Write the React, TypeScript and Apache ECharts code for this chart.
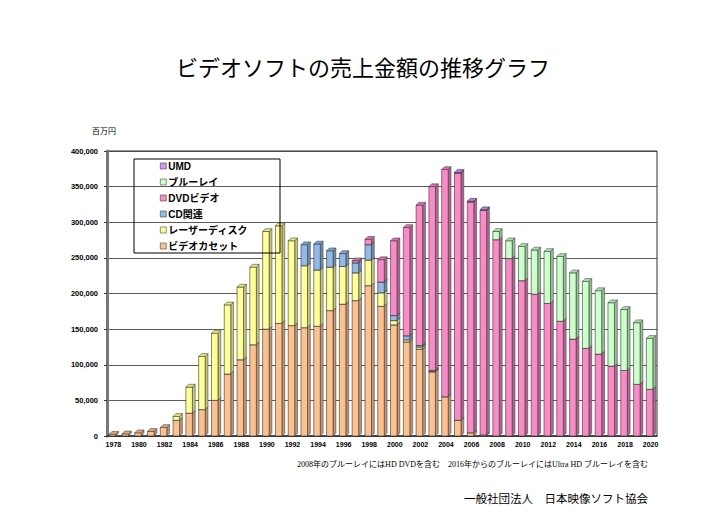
import React, { useEffect, useRef } from "react";
import * as echarts from "echarts";

const years = [
  "1978", "1979", "1980", "1981", "1982", "1983", "1984", "1985", "1986", "1987",
  "1988", "1989", "1990", "1991", "1992", "1993", "1994", "1995", "1996", "1997",
  "1998", "1999", "2000", "2001", "2002", "2003", "2004", "2005", "2006", "2007",
  "2008", "2009", "2010", "2011", "2012", "2013", "2014", "2015", "2016", "2017",
  "2018", "2019", "2020",
];

// 百万円
const videoCassette = [
  2500, 3000, 4500, 6500, 12000, 22000, 32000, 37000, 50000, 87000,
  107000, 128000, 150000, 158000, 155000, 152000, 154000, 176000, 185000, 190000,
  211000, 182000, 156000, 132000, 122000, 90000, 55000, 22000, 4500, 1500,
  0, 0, 0, 0, 0, 0, 0, 0, 0, 0,
  0, 0, 0,
];
const laserDisc = [
  0, 0, 0, 0, 0, 5500, 36600, 74600, 94000, 97000,
  102000, 109000, 137000, 137000, 119000, 87000, 79000, 61000, 53000, 39000,
  36000, 19000, 6000, 3000, 3000, 1000, 0, 0, 0, 0,
  0, 0, 0, 0, 0, 0, 0, 0, 0, 0,
  0, 0, 0,
];
const cdRelated = [
  0, 0, 0, 0, 0, 0, 0, 0, 0, 0,
  0, 0, 0, 0, 0, 29500, 36500, 23000, 18000, 14000,
  21500, 15000, 7000, 5600, 2000, 1000, 0, 0, 0, 0,
  0, 0, 0, 0, 0, 0, 0, 0, 0, 0,
  0, 0, 0,
];
const dvdVideo = [
  0, 0, 0, 0, 0, 0, 0, 0, 0, 0,
  0, 0, 0, 0, 0, 0, 0, 0, 0, 3000,
  7500, 31500, 105000, 152000, 197000, 258000, 319000, 347000, 324000, 315500,
  275500, 249000, 218000, 199000, 186000, 161000, 136000, 123000, 115000, 98000,
  92000, 72500, 65500,
];
const bluRay = [
  0, 0, 0, 0, 0, 0, 0, 0, 0, 0,
  0, 0, 0, 0, 0, 0, 0, 0, 0, 0,
  0, 0, 0, 0, 0, 0, 0, 0, 0, 0,
  11500, 25000, 48000, 62000, 73000, 91000, 93000, 94000, 89000, 89000,
  85500, 86500, 71500,
];
const umd = [
  0, 0, 0, 0, 0, 0, 0, 0, 0, 0,
  0, 0, 0, 0, 0, 0, 0, 0, 0, 0,
  0, 0, 0, 0, 0, 0, 0, 1000, 1000, 500,
  0, 0, 0, 0, 0, 0, 0, 0, 0, 0,
  0, 0, 0,
];

const seriesNames = ["ビデオカセット", "レーザーディスク", "CD関連", "DVDビデオ", "ブルーレイ", "UMD"];
const seriesValues = [videoCassette, laserDisc, cdRelated, dvdVideo, bluRay, umd];
const yTicks = { min: 0, max: 400000, interval: 50000 };

const palette = [
  { front: "#FBC291", side: "#C9936A", top: "#E0A97C" },
  { front: "#FFFF99", side: "#C8C86C", top: "#E6E680" },
  { front: "#93B9E6", side: "#6A8DB8", top: "#7FA3CF" },
  { front: "#F88CC6", side: "#C25F97", top: "#D874AE" },
  { front: "#CCFFCC", side: "#93C493", top: "#AEE0AE" },
  { front: "#CC99FF", side: "#9A6CC8", top: "#B280E6" },
];

export default function App() {
  const ref = useRef<HTMLDivElement>(null);
  useEffect(() => {
    if (!ref.current) return;
    const chart = echarts.init(ref.current, undefined, { renderer: "svg" });
    const base = years.map(() => 0);
    const series = seriesValues.map((vals, s) => {
      const data = years.map((_, i) => {
        const lo = base[i];
        const hi = lo + vals[i];
        base[i] = hi;
        return [i, lo, hi];
      });
      const col = palette[s];
      return {
        type: "custom",
        name: seriesNames[s],
        data,
        encode: { x: 0, y: [1, 2] },
        itemStyle: { color: col.front, borderColor: "#444", borderWidth: 0.6 },
        renderItem: (params: any, api: any) => {
          const idx = api.value(0);
          const lo = api.value(1);
          const hi = api.value(2);
          if (!(hi > lo)) return null;
          const pT = api.coord([idx, hi]);
          const pB = api.coord([idx, lo]);
          const w = 6.5;
          const d = 2.8;
          const x0 = pT[0] - w / 2 - 1;
          const x1 = x0 + w;
          const yT = pT[1];
          const yB = pB[1];
          return {
            type: "group",
            children: [
              {
                type: "polygon",
                shape: { points: [[x1, yB], [x1, yT], [x1 + d, yT - d], [x1 + d, yB - d]] },
                style: { fill: col.side, stroke: "#333", lineWidth: 0.5 },
              },
              {
                type: "rect",
                shape: { x: x0, y: yT, width: w, height: yB - yT },
                style: { fill: col.front, stroke: "#333", lineWidth: 0.6 },
              },
              {
                type: "polygon",
                shape: { points: [[x0, yT], [x0 + d, yT - d], [x1 + d, yT - d], [x1, yT]] },
                style: { fill: col.top, stroke: "#333", lineWidth: 0.5 },
              },
            ],
          };
        },
      };
    });

    chart.setOption({
      animation: false,
      backgroundColor: "#ffffff",
      grid: { left: 107, right: 49, top: 151, bottom: 89, show: true, borderColor: "#333", borderWidth: 1 },
      legend: {
        data: seriesNames.slice().reverse(),
        orient: "vertical",
        left: 160,
        top: 160,
        padding: 0,
        itemGap: 4,
        itemWidth: 6,
        itemHeight: 6,
        icon: "rect",
        itemStyle: { borderColor: "#444", borderWidth: 0.6 },
        textStyle: {
          fontFamily: "'Liberation Sans', 'Noto Sans CJK JP', sans-serif",
          fontWeight: "bold",
          fontSize: 10,
          lineHeight: 12,
          color: "#000",
          padding: [0, 0, 0, -3],
        },
        selectedMode: false,
      },
      xAxis: {
        type: "category",
        data: years,
        boundaryGap: true,
        axisLine: { lineStyle: { color: "#333", width: 1.5 } },
        axisTick: { show: false },
        axisLabel: {
          interval: 1,
          margin: 5,
          fontFamily: "'Liberation Sans', sans-serif",
          fontWeight: "bold",
          fontSize: 7,
          color: "#000",
        },
      },
      yAxis: {
        type: "value",
        min: yTicks.min,
        max: yTicks.max,
        interval: yTicks.interval,
        axisLine: { show: true, lineStyle: { color: "#777", width: 3 } },
        axisTick: { show: true, length: 3, lineStyle: { color: "#333" } },
        splitLine: { lineStyle: { color: "#333", width: 0.8 } },
        axisLabel: {
          margin: 9,
          fontFamily: "'Liberation Sans', sans-serif",
          fontWeight: "bold",
          fontSize: 7.5,
          color: "#000",
          formatter: (v: number) => v.toLocaleString("en-US"),
        },
      },
      series,
      graphic: [
        {
          type: "text",
          x: 363,
          y: 66,
          style: {
            text: "ビデオソフトの売上金額の推移グラフ",
            fontFamily: "'Noto Sans CJK JP', sans-serif",
            fontSize: 22,
            fill: "#000",
            align: "center",
            verticalAlign: "middle",
          },
        },
        {
          type: "text",
          x: 104,
          y: 130,
          style: {
            text: "百万円",
            fontFamily: "'Noto Sans CJK JP', sans-serif",
            fontSize: 8,
            fill: "#000",
            align: "center",
            verticalAlign: "middle",
          },
        },
        {
          type: "rect",
          shape: { x: 134, y: 159, width: 146, height: 94 },
          style: { fill: "none", stroke: "#000", lineWidth: 1 },
          z: 10,
        },
        {
          type: "text",
          x: 648,
          y: 464,
          style: {
            text: "2008年のブルーレイにはHD DVDを含む\u30002016年からのブルーレイにはUltra HD ブルーレイを含む",
            fontFamily: "'Liberation Serif', 'Noto Sans CJK JP', serif",
            fontSize: 8,
            fill: "#000",
            align: "right",
            verticalAlign: "middle",
          },
        },
        {
          type: "text",
          x: 648,
          y: 498,
          style: {
            text: "一般社団法人\u3000日本映像ソフト協会",
            fontFamily: "'Noto Sans CJK JP', sans-serif",
            fontSize: 11.5,
            fill: "#000",
            align: "right",
            verticalAlign: "middle",
          },
        },
      ],
    });
    return () => chart.dispose();
  }, []);
  return <div ref={ref} style={{ width: 706, height: 525, position: "absolute", left: 0, top: 0 }} />;
}
